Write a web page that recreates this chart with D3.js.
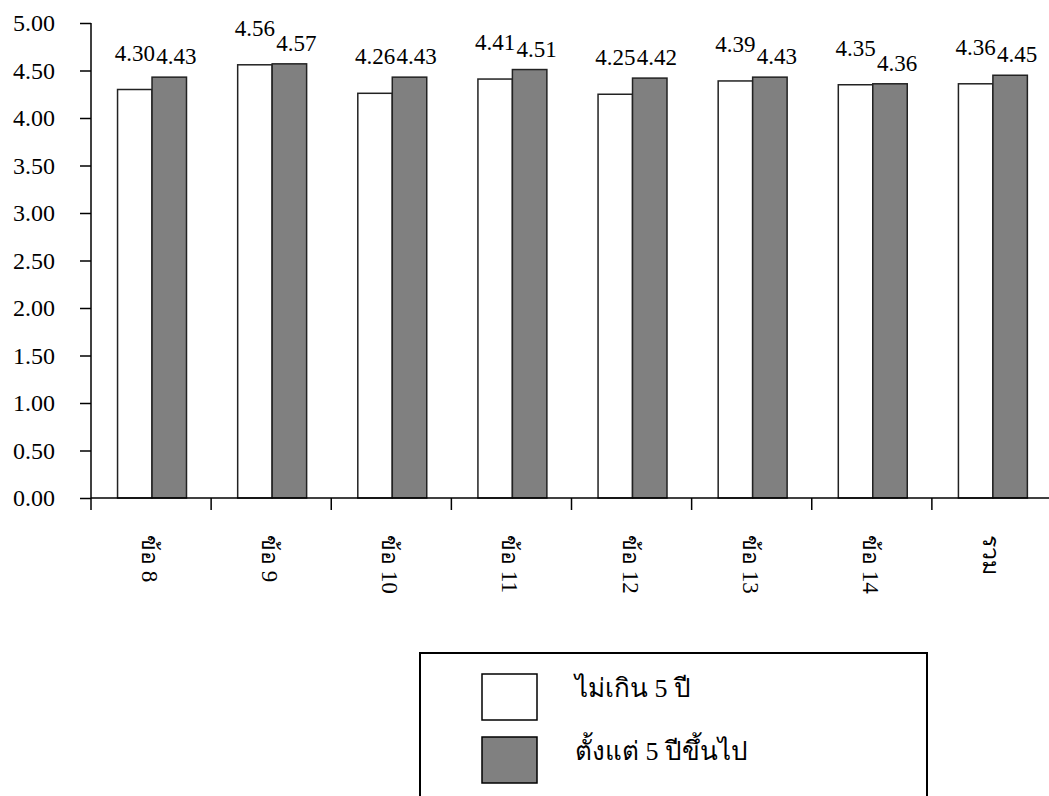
<!DOCTYPE html>
<html>
<head>
<meta charset="utf-8">
<script src="https://cdn.jsdelivr.net/npm/d3@7"></script>
<style>
  html, body { margin: 0; padding: 0; background: #fff; }
  svg { display: block; }
</style>
</head>
<body>
<svg id="chart" width="1049" height="796"></svg>
<script>
// ---- data ----
const categories = ["ข้อ 8", "ข้อ 9", "ข้อ 10", "ข้อ 11", "ข้อ 12", "ข้อ 13", "ข้อ 14", "รวม"];
const seriesNames = ["ไม่เกิน 5 ปี", "ตั้งแต่ 5 ปีขึ้นไป"];
const under5 = [4.30, 4.56, 4.26, 4.41, 4.25, 4.39, 4.35, 4.36];
const over5  = [4.43, 4.57, 4.43, 4.51, 4.42, 4.43, 4.36, 4.45];
const yTicks = [0, 0.5, 1, 1.5, 2, 2.5, 3, 3.5, 4, 4.5, 5];

const seriesValues = [under5, over5];
const fills = ["#ffffff", "#808080"];
const SERIF = "Liberation Serif";

const svg = d3.select("#chart");
const W = 1049, H = 796;
svg.append("rect").attr("width", W).attr("height", H).attr("fill", "#fff");

const y = d3.scaleLinear().domain([0, 5]).range([498, 23]);
const x = d3.scaleBand().domain(categories).range([91, 1052]).paddingInner(0).paddingOuter(0);
const bw = x.bandwidth();
const x1 = d3.scaleBand().domain(seriesNames).range([bw * 0.221, bw * 0.795]).padding(0);

// y axis
const yAxis = d3.axisLeft(y).tickValues(yTicks).tickFormat(d3.format(".2f")).tickSize(11).tickPadding(25);
const gy = svg.append("g").attr("transform", "translate(91,0)").call(yAxis);
gy.attr("font-family", SERIF);
gy.select(".domain").attr("stroke", "#000").attr("stroke-width", 1.5).attr("d", "M0,23V498");
gy.selectAll(".tick line").attr("stroke", "#000").attr("stroke-width", 1.5);
gy.selectAll(".tick text")
  .attr("font-family", SERIF)
  .attr("font-size", 24)
  .attr("fill", "#000")
  .attr("dy", "0.33em");

// bars
const groups = svg.append("g").selectAll("g")
  .data(categories)
  .join("g")
  .attr("transform", d => `translate(${x(d)},0)`);

groups.selectAll("rect")
  .data((d, i) => seriesNames.map((s, k) => ({ s, k, v: seriesValues[k][i] })))
  .join("rect")
  .attr("x", d => x1(d.s))
  .attr("y", d => y(d.v))
  .attr("width", x1.bandwidth())
  .attr("height", d => y(0) - y(d.v))
  .attr("fill", d => fills[d.k])
  .attr("stroke", "#222")
  .attr("stroke-width", 1.5);

// value labels
const labelRise = [29, 13];
const labelShift = [0, 7];
groups.selectAll("text.val")
  .data((d, i) => seriesNames.map((s, k) => ({ s, k, v: seriesValues[k][i] })))
  .join("text")
  .attr("class", "val")
  .attr("font-family", SERIF)
  .attr("x", d => x1(d.s) + x1.bandwidth() / 2 + labelShift[d.k])
  .attr("y", d => y(d.v) - labelRise[d.k])
  .attr("text-anchor", "middle")
  .attr("font-size", 23)
  .attr("fill", "#000")
  .text(d => d.v.toFixed(2));

// x axis
const xAxisLine = svg.append("g");
xAxisLine.append("line")
  .attr("x1", 91).attr("x2", W).attr("y1", y(0)).attr("y2", y(0))
  .attr("stroke", "#000").attr("stroke-width", 1.5);
xAxisLine.selectAll("line.tk")
  .data(categories)
  .join("line")
  .attr("class", "tk")
  .attr("x1", d => x(d)).attr("x2", d => x(d))
  .attr("y1", y(0)).attr("y2", y(0) + 12)
  .attr("stroke", "#000").attr("stroke-width", 1.5);

svg.append("g").selectAll("text")
  .data(categories)
  .join("text")
  .attr("font-family", SERIF)
  .attr("font-size", 23)
  .attr("fill", "#000")
  .attr("transform", d => `translate(${x(d) + bw / 2 - 9},535) rotate(90)`)
  .attr("text-anchor", "start")
  .text(d => d);

// legend
const lg = svg.append("g");
lg.append("rect")
  .attr("x", 420).attr("y", 653).attr("width", 507).attr("height", 160)
  .attr("fill", "#fff").attr("stroke", "#000").attr("stroke-width", 2);
const lItems = lg.selectAll("g.item")
  .data(seriesNames)
  .join("g")
  .attr("class", "item")
  .attr("transform", (d, i) => `translate(0,${i * 63})`);
lItems.append("rect")
  .attr("x", 482).attr("y", 674).attr("width", 55).attr("height", 46)
  .attr("fill", (d, i) => fills[i]).attr("stroke", "#000").attr("stroke-width", 1.5);
lItems.append("text")
  .attr("font-family", SERIF)
  .attr("x", 575).attr("y", 697)
  .attr("font-size", 26)
  .attr("fill", "#000")
  .text(d => d);
</script>
</body>
</html>
